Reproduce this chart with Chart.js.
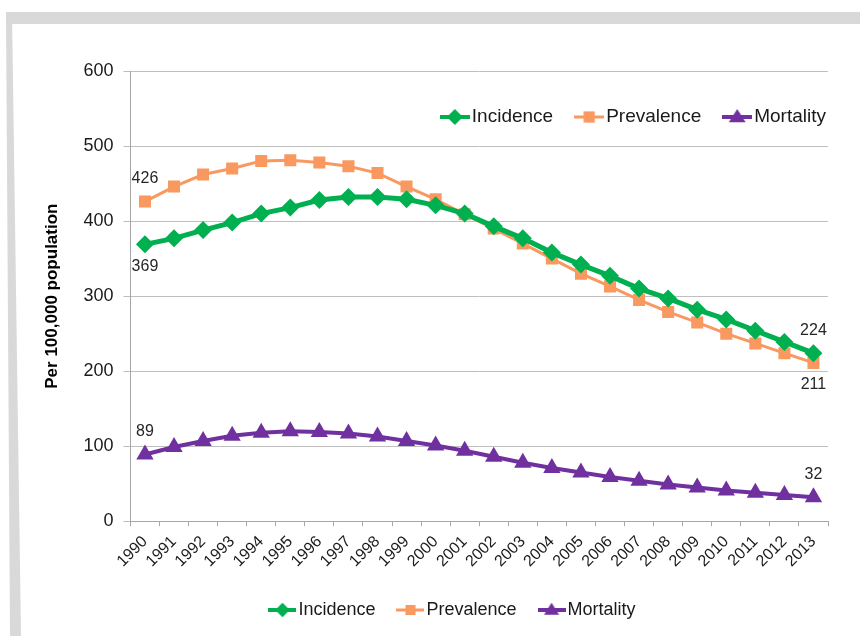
<!DOCTYPE html>
<html lang="en">
<head>
<meta charset="UTF-8">
<title>Incidence, prevalence and mortality</title>
<script src="https://cdn.jsdelivr.net/npm/chart.js@4"></script>
<style>
  html, body { margin: 0; padding: 0; background: #fff; }
  #wrap { position: relative; width: 860px; height: 636px; overflow: hidden; }
  .band { position: absolute; background: #d9d9d9; }
  #top { left: 6px; top: 12px; width: 854px; height: 12px; }
  #left { left: 6px; top: 12px; width: 15px; height: 624px;
          clip-path: polygon(0 0, 6px 0, 15px 100%, 4px 100%); }
  canvas { position: absolute; left: 0; top: 0; }
</style>
</head>
<body>
<div id="wrap">
  <div class="band" id="top"></div>
  <div class="band" id="left"></div>
  <canvas id="myChart" width="860" height="636"></canvas>
</div>
<script>
// values
const years = ['1990','1991','1992','1993','1994','1995','1996','1997','1998','1999','2000','2001',
               '2002','2003','2004','2005','2006','2007','2008','2009','2010','2011','2012','2013'];
const incidence  = [369,377,388,398,410,418,428,432,432,429,421,410,393,377,358,342,327,310,297,282,269,254,239,224];
const prevalence = [426,446,462,470,480,481,478,473,464,446,429,409,390,370,350,330,313,295,279,265,250,237,224,211];
const mortality  = [89,99,107,114,118,120,119,117,113,107,101,94,86,78,71,65,59,54,49,45,41,38,35,32];
const yTicks = [0,100,200,300,400,500,600];

const GREEN = '#00b050', ORANGE = '#f9985f', PURPLE = '#7030a0';
const FONT = '"Liberation Sans", Arial, sans-serif';

// small "line with marker" images used as legend symbols
function legendIcon(color, shape, lw, w, scale) {
    const c = document.createElement('canvas');
    c.width = w; c.height = 20;
    const g = c.getContext('2d');
    g.strokeStyle = color; g.fillStyle = color; g.lineWidth = lw;
    g.beginPath(); g.moveTo(0, 10); g.lineTo(w, 10); g.stroke();
    const cx = w / 2, cy = 10, r = 8 * scale;
    g.beginPath();
    if (shape === 'diamond') {
        g.moveTo(cx, cy - r); g.lineTo(cx + r, cy); g.lineTo(cx, cy + r); g.lineTo(cx - r, cy);
    } else if (shape === 'square') {
        const s = r * 0.7;
        g.rect(cx - s, cy - s, 2 * s, 2 * s);
    } else {
        g.moveTo(cx, cy - r); g.lineTo(cx + r * 1.05, cy + r * 0.65); g.lineTo(cx - r * 1.05, cy + r * 0.65);
    }
    g.closePath(); g.fill();
    return c;
}

const iconsTop = [legendIcon(GREEN,'diamond',4,30,1), legendIcon(ORANGE,'square',3,30,1), legendIcon(PURPLE,'triangle',4,30,1)];
const iconsBottom = [legendIcon(GREEN,'diamond',4,28,0.9), legendIcon(ORANGE,'square',3,28,0.9), legendIcon(PURPLE,'triangle',4,28,0.9)];

function drawLegendRow(ctx, names, icons, startX, y, gap) {
    let x = startX;
    names.forEach((name, i) => {
        ctx.drawImage(icons[i], x, y - 10);
        x += icons[i].width + 2;
        ctx.fillText(name, x, y);
        x += ctx.measureText(name).width + gap;
    });
}
function rowWidth(ctx, names, icons, gap) {
    return names.reduce((s, n, i) => s + icons[i].width + 2 + ctx.measureText(n).width, 0) + gap * (names.length - 1);
}

// the two legends: one inside the plot (top right), one under the axis
const legends = {
    id: 'legends',
    afterDraw(chart) {
        const ctx = chart.ctx;
        const area = chart.chartArea;
        const names = chart.data.datasets.map(d => d.label);
        ctx.save();
        ctx.fillStyle = '#1a1a1a';
        ctx.textBaseline = 'middle';
        ctx.textAlign = 'left';

        ctx.font = '19px ' + FONT;
        const wTop = rowWidth(ctx, names, iconsTop, 21);
        drawLegendRow(ctx, names, iconsTop, area.right - 2 - wTop, area.top + 46, 21);

        ctx.font = '18px ' + FONT;
        const wBot = rowWidth(ctx, names, iconsBottom, 21);
        drawLegendRow(ctx, names, iconsBottom, 452 - wBot / 2, 610, 21);
        ctx.restore();
    }
};

// first / last value labels
const endLabels = {
    id: 'endLabels',
    afterDatasetsDraw(chart) {
        const ctx = chart.ctx;
        const last = years.length - 1;
        const spots = [
            [0, 0, 'below'], [0, last, 'above'],
            [1, 0, 'above'], [1, last, 'below'],
            [2, 0, 'above'], [2, last, 'above']
        ];
        ctx.save();
        ctx.font = '16px ' + FONT;
        ctx.fillStyle = '#262626';
        ctx.textAlign = 'center';
        ctx.textBaseline = 'middle';
        spots.forEach(([ds, idx, pos]) => {
            const pt = chart.getDatasetMeta(ds).data[idx];
            const v = chart.data.datasets[ds].data[idx];
            ctx.fillText(String(v), pt.x, pt.y + (pos === 'above' ? -23 : 22));
        });
        ctx.restore();
    }
};

const ctx = document.getElementById('myChart').getContext('2d');
const data = {
    labels: years,
    datasets: [{
        label: 'Incidence',
        data: incidence,
        borderColor: GREEN,
        backgroundColor: GREEN,
        borderWidth: 5,
        pointStyle: 'rectRot',
        pointRadius: 9,
        pointHoverRadius: 9,
        pointBorderWidth: 0
    }, {
        label: 'Prevalence',
        data: prevalence,
        borderColor: ORANGE,
        backgroundColor: ORANGE,
        borderWidth: 3,
        pointStyle: 'rect',
        pointRadius: 8.5,
        pointHoverRadius: 8.5,
        pointBorderWidth: 0
    }, {
        label: 'Mortality',
        data: mortality,
        borderColor: PURPLE,
        backgroundColor: PURPLE,
        borderWidth: 4,
        pointStyle: 'triangle',
        pointRadius: 10,
        pointHoverRadius: 10,
        pointBorderWidth: 0
    }]
};

const config = {
    type: 'line',
    data: data,
    options: {
        responsive: false,
        animation: false,
        layout: { padding: { left: 42, right: 32, top: 71, bottom: 59 } },
        plugins: {
            tooltip: { enabled: false },
            legend: { display: false }
        },
        scales: {
            x: {
                offset: true,
                grid: { display: true, drawOnChartArea: false, offset: true, color: '#a6a6a6', tickLength: 5 },
                border: { color: '#a6a6a6' },
                ticks: {
                    minRotation: 45, maxRotation: 45, autoSkip: false,
                    padding: 6,
                    color: '#1a1a1a',
                    font: { family: FONT, size: 16 }
                }
            },
            y: {
                min: 0, max: 600,
                afterBuildTicks: (axis) => { axis.ticks = yTicks.map(v => ({ value: v })); },
                grid: { color: '#bfbfbf', tickLength: 7 },
                border: { color: '#a6a6a6' },
                ticks: {
                    padding: 10,
                    color: '#1a1a1a',
                    font: { family: FONT, size: 18 }
                },
                title: {
                    display: true,
                    text: 'Per 100,000 population',
                    color: '#000',
                    padding: { top: 0, bottom: 11 },
                    font: { family: FONT, size: 17, weight: 'bold' }
                }
            }
        }
    },
    plugins: [legends, endLabels]
};

const myChart = new Chart(ctx, config);
</script>
</body>
</html>
